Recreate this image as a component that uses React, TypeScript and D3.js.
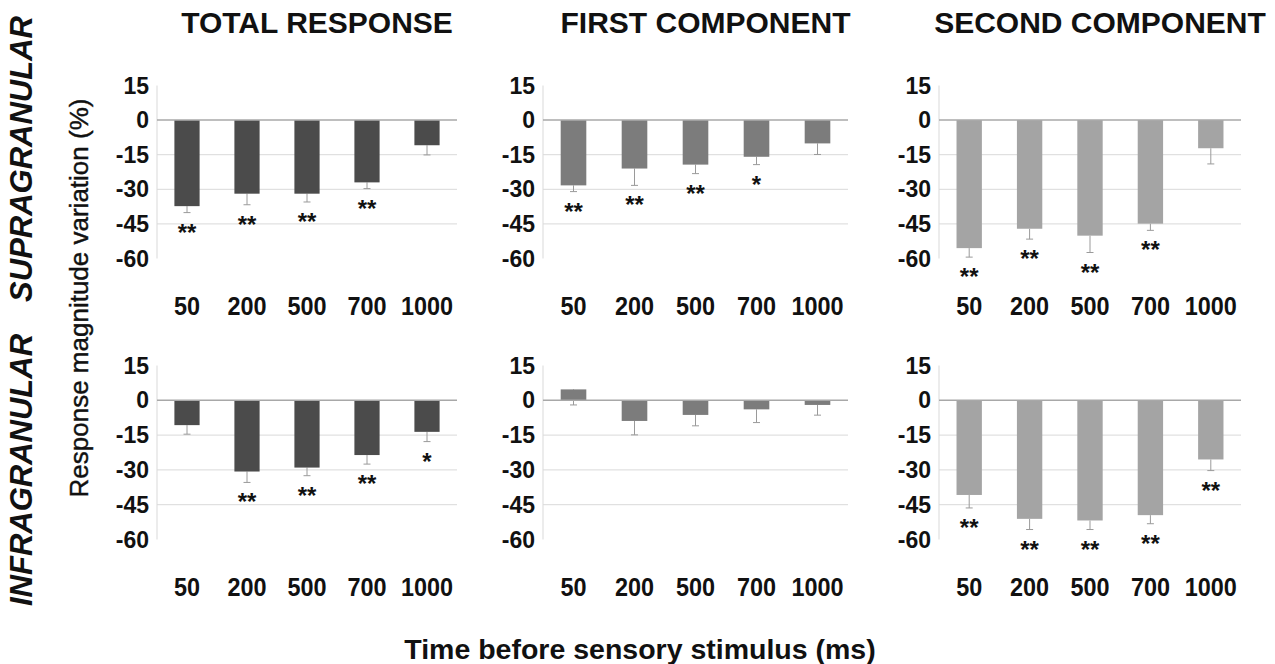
import React, { useEffect, useRef } from "react";
import * as d3 from "d3";

const W = 1275;
const H = 664;
const FONT = "'Liberation Sans', Arial, Helvetica, sans-serif";

// delays before the sensory stimulus (ms)
const delays = ["50", "200", "500", "700", "1000"];
const yTicks = [15, 0, -15, -30, -45, -60];
const gridTicks = [-15, -30, -45];

const columnTitles = ["TOTAL RESPONSE", "FIRST COMPONENT", "SECOND COMPONENT"];
const rowTitles = ["SUPRAGRANULAR", "INFRAGRANULAR"];
const barColors = ["#4b4b4b", "#7c7c7c", "#a4a4a4"];

// supragranular
const supraTotal = [-37.3, -31.9, -31.9, -27.0, -10.9];
const supraTotalErr = [2.8, 4.8, 3.6, 2.7, 4.2];
const supraTotalSig = ["**", "**", "**", "**", ""];
const supraFirst = [-28.3, -21.0, -19.3, -15.9, -10.1];
const supraFirstErr = [2.7, 7.3, 3.9, 3.4, 4.8];
const supraFirstSig = ["**", "**", "**", "*", ""];
const supraSecond = [-55.5, -47.1, -50.1, -44.9, -12.2];
const supraSecondErr = [3.9, 4.5, 7.3, 2.9, 6.8];
const supraSecondSig = ["**", "**", "**", "**", ""];

// infragranular
const infraTotal = [-10.7, -30.7, -29.0, -23.6, -13.6];
const infraTotalErr = [3.9, 4.7, 3.5, 3.9, 4.2];
const infraTotalSig = ["", "**", "**", "**", "*"];
const infraFirst = [4.7, -8.9, -6.3, -3.9, -2.0];
const infraFirstErr = [6.7, 6.0, 4.7, 5.7, 4.4];
const infraFirstSig = ["", "", "", "", ""];
const infraSecond = [-40.8, -51.1, -51.8, -49.5, -25.5];
const infraSecondErr = [5.6, 4.6, 3.9, 3.7, 4.8];
const infraSecondSig = ["**", "**", "**", "**", "**"];

const panels = [
  { row: 0, col: 0, values: supraTotal, errors: supraTotalErr, sig: supraTotalSig },
  { row: 0, col: 1, values: supraFirst, errors: supraFirstErr, sig: supraFirstSig },
  { row: 0, col: 2, values: supraSecond, errors: supraSecondErr, sig: supraSecondSig },
  { row: 1, col: 0, values: infraTotal, errors: infraTotalErr, sig: infraTotalSig },
  { row: 1, col: 1, values: infraFirst, errors: infraFirstErr, sig: infraFirstSig },
  { row: 1, col: 2, values: infraSecond, errors: infraSecondErr, sig: infraSecondSig },
];

// layout of the grid of panels
const colX = [
  [157, 457],
  [543, 848],
  [939, 1241],
];
const rowY = [
  [85.5, 258.5],
  [365.5, 539.5],
];

const App = () => {
  const ref = useRef<SVGSVGElement>(null);

  useEffect(() => {
    const svg = d3.select(ref.current);
    svg.selectAll("*").remove();

    panels.forEach((p) => {
      const [x0, x1] = colX[p.col];
      const x = d3
        .scaleBand()
        .domain(delays)
        .range([x0, x1])
        .paddingInner(0.58)
        .paddingOuter(0.29);
      const y = d3.scaleLinear().domain([15, -60]).range(rowY[p.row]);
      const g = svg.append("g");

      //gridlines
      g.selectAll(".grid")
        .data(gridTicks)
        .enter()
        .append("line")
        .attr("x1", x0)
        .attr("x2", x1)
        .attr("y1", (d) => y(d))
        .attr("y2", (d) => y(d))
        .attr("stroke", "#d9d9d9")
        .attr("stroke-width", 1);

      //y axis line
      g.append("line")
        .attr("x1", x0)
        .attr("x2", x0)
        .attr("y1", y(15))
        .attr("y2", y(-60))
        .attr("stroke", "#d9d9d9");

      //tick labels
      g.selectAll(".ytick")
        .data(yTicks)
        .enter()
        .append("text")
        .attr("x", x0 - 8)
        .attr("y", (d) => y(d))
        .attr("text-anchor", "end")
        .attr("dominant-baseline", "central")
        .attr("font-family", FONT)
        .attr("font-weight", "bold")
        .attr("font-size", 23)
        .attr("fill", "#111")
        .text((d) => d);

      const rows = delays.map((d, i) => ({
        key: d,
        v: p.values[i],
        e: p.errors[i],
        s: p.sig[i],
      }));
      const cx = (d) => (x(d.key) as number) + x.bandwidth() / 2;

      //error bars (minus only)
      g.selectAll(".err")
        .data(rows)
        .enter()
        .append("line")
        .attr("x1", cx)
        .attr("x2", cx)
        .attr("y1", (d) => y(d.v))
        .attr("y2", (d) => y(d.v - d.e))
        .attr("stroke", "#9a9a9a");
      g.selectAll(".cap")
        .data(rows)
        .enter()
        .append("line")
        .attr("x1", (d) => cx(d) - 3.5)
        .attr("x2", (d) => cx(d) + 3.5)
        .attr("y1", (d) => y(d.v - d.e))
        .attr("y2", (d) => y(d.v - d.e))
        .attr("stroke", "#9a9a9a");

      //bars
      g.selectAll(".bar")
        .data(rows)
        .enter()
        .append("rect")
        .attr("x", (d) => x(d.key) as number)
        .attr("width", x.bandwidth())
        .attr("y", (d) => Math.min(y(d.v), y(0)))
        .attr("height", (d) => Math.abs(y(d.v) - y(0)))
        .attr("fill", barColors[p.col]);

      //zero line
      g.append("line")
        .attr("x1", x0)
        .attr("x2", x1)
        .attr("y1", y(0))
        .attr("y2", y(0))
        .attr("stroke", "#a8a8a8")
        .attr("stroke-width", 1.5);

      //significance stars
      g.selectAll(".sig")
        .data(rows.filter((d) => d.s))
        .enter()
        .append("text")
        .attr("x", cx)
        .attr("y", (d) => y(d.v - d.e) + 28)
        .attr("text-anchor", "middle")
        .attr("font-family", FONT)
        .attr("font-weight", "bold")
        .attr("font-size", 24)
        .attr("fill", "#111")
        .text((d) => d.s);

      //x labels
      g.selectAll(".xlab")
        .data(rows)
        .enter()
        .append("text")
        .attr("transform", (d) => `translate(${cx(d)},${y(-60) + 56}) scale(0.9,1)`)
        .attr("text-anchor", "middle")
        .attr("font-family", FONT)
        .attr("font-weight", "bold")
        .attr("font-size", 26)
        .attr("fill", "#111")
        .text((d) => d.key);
    });

    //column titles
    svg
      .selectAll(".coltitle")
      .data(columnTitles)
      .enter()
      .append("text")
      .attr("x", (d, i) => (colX[i][0] + colX[i][1]) / 2 + 10)
      .attr("y", 33)
      .attr("text-anchor", "middle")
      .attr("font-family", FONT)
      .attr("font-weight", "bold")
      .attr("font-size", 30)
      .attr("fill", "#111")
      .text((d) => d);

    //row titles
    const rowCenters = [159, 470];
    svg
      .selectAll(".rowtitle")
      .data(rowTitles)
      .enter()
      .append("text")
      .attr("transform", (d, i) => `translate(32,${rowCenters[i]}) rotate(-90)`)
      .attr("text-anchor", "middle")
      .attr("font-family", FONT)
      .attr("font-weight", "bold")
      .attr("font-style", "italic")
      .attr("font-size", 31)
      .attr("fill", "#111")
      .text((d) => d);

    //axis titles
    svg
      .append("text")
      .attr("transform", "translate(88,298) rotate(-90)")
      .attr("text-anchor", "middle")
      .attr("font-family", FONT)
      .attr("font-size", 26)
      .attr("fill", "#111")
      .attr("stroke", "#111")
      .attr("stroke-width", 0.4)
      .text("Response magnitude variation (%)");

    svg
      .append("text")
      .attr("x", 640)
      .attr("y", 659)
      .attr("text-anchor", "middle")
      .attr("font-family", FONT)
      .attr("font-weight", "bold")
      .attr("font-size", 28.5)
      .attr("fill", "#111")
      .text("Time before sensory stimulus (ms)");
  }, []);

  return (
    <svg
      ref={ref}
      width={W}
      height={H}
      style={{ position: "absolute", left: 0, top: 0, background: "#fff" }}
    />
  );
};

export default App;
